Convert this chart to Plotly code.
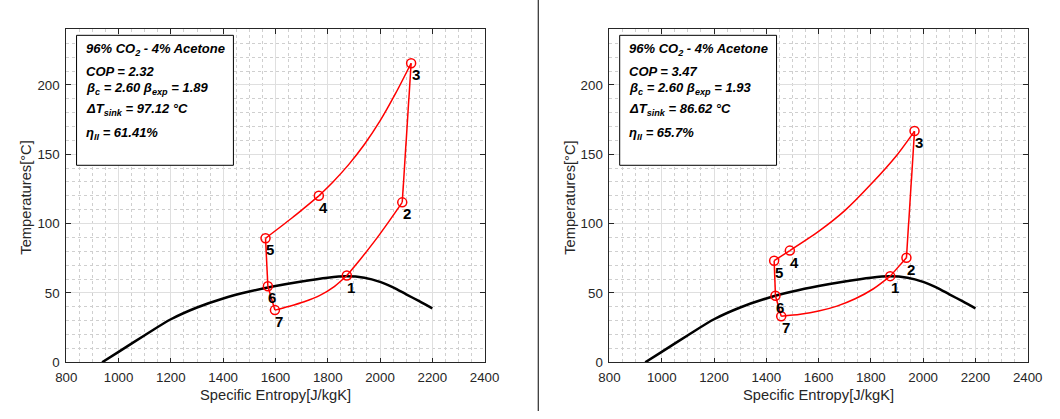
import plotly.graph_objects as go

W, H = 1060, 419
FONT = "Liberation Sans, Arial, Helvetica, sans-serif"
AX_COLOR = "#262626"

# Saturation dome of the 96% CO2 - 4% acetone mixture
dome_s = [937, 1000, 1100, 1200, 1300, 1400, 1500, 1600, 1700, 1800, 1870, 1940, 2000, 2050, 2100, 2150, 2200]
dome_T = [0, 7.5, 19.5, 31, 39.5, 46, 51, 55, 58.3, 61, 62, 61, 58, 54, 49, 44, 38.8]

state_labels = ["1", "2", "3", "4", "5", "6", "7"]

# Case A: state points and the cycle path through them
a_state_s = [1873, 2085, 2119, 1766, 1562, 1571, 1598]
a_state_T = [62.5, 115.3, 215.6, 120.0, 89.4, 54.8, 37.6]
a_path_s = [1873, 1925, 1980, 2035, 2085, 2119, 2060, 2000, 1940, 1880, 1820, 1766,
            1663, 1562, 1571, 1598, 1650, 1710, 1770, 1825, 1873]
a_path_T = [62.5, 74.3, 87.5, 101.8, 115.3, 215.6, 194, 174, 157, 142.5, 130, 120.0,
            104, 89.4, 54.8, 37.6, 40.2, 43.6, 48.2, 54.5, 62.5]
a_info = ["2.32", "2.60", "1.89", "97.12", "61.41"]

# Case B
b_state_s = [1874, 1936, 1967, 1490, 1430, 1435, 1457]
b_state_T = [62.1, 75.3, 166.7, 80.5, 73.2, 48.0, 33.2]
b_path_s = [1874, 1936, 1967, 1900, 1800, 1700, 1600, 1490, 1430, 1435, 1457,
            1530, 1600, 1670, 1740, 1810, 1874]
b_path_T = [62.1, 75.3, 166.7, 149.5, 128.3, 109.3, 94.3, 80.5, 73.2, 48.0, 33.2,
            34.6, 36.9, 40.5, 45.8, 53.0, 62.1]
b_info = ["3.47", "2.60", "1.93", "86.62", "65.7"]

x_ticks = [800, 1000, 1200, 1400, 1600, 1800, 2000, 2200, 2400]
y_ticks = [0, 50, 100, 150, 200]

# panel geometry in pixels
PLOT_TOP, PLOT_BOTTOM = 30.0, 369.3
PANELS = [
    dict(left=56.7, right=485.5, xa="x", ya="y"),
    dict(left=613.5, right=1042.3, xa="x2", ya="y2"),
]


def px(xp):
    return xp / W


def py(yp):
    return 1 - yp / H


fig = go.Figure()
annotations = []
shapes = []


def split_processes(path_s, path_T, st_s, st_T):
    """Cut the closed cycle path into one polyline per process (state to state)."""
    states = set(zip(st_s, st_T))
    segs = []
    cur_s, cur_T = [path_s[0]], [path_T[0]]
    for s, t in zip(path_s[1:], path_T[1:]):
        cur_s.append(s)
        cur_T.append(t)
        if (s, t) in states:
            segs.append((cur_s, cur_T))
            cur_s, cur_T = [s], [t]
    return segs


cases = [
    (a_state_s, a_state_T, a_path_s, a_path_T, a_info),
    (b_state_s, b_state_T, b_path_s, b_path_T, b_info),
]

for panel, (st_s, st_T, p_s, p_T, info) in zip(PANELS, cases):
    xa, ya = panel["xa"], panel["ya"]
    fig.add_trace(go.Scatter(
        x=dome_s, y=dome_T, mode="lines",
        line=dict(color="black", width=2.5, shape="spline", smoothing=0.8),
        xaxis=xa, yaxis=ya, showlegend=False, hoverinfo="skip"))
    for seg_s, seg_T in split_processes(p_s, p_T, st_s, st_T):
        fig.add_trace(go.Scatter(
            x=seg_s, y=seg_T, mode="lines",
            line=dict(color="#ff0000", width=1.5, shape="spline", smoothing=0.8),
            xaxis=xa, yaxis=ya, showlegend=False, hoverinfo="skip"))
    fig.add_trace(go.Scatter(
        x=st_s, y=st_T, mode="markers",
        marker=dict(symbol="circle-open", size=9, color="#ff0000", line=dict(width=1.5, color="#ff0000")),
        xaxis=xa, yaxis=ya, showlegend=False))
    for lab, s, t in zip(state_labels, st_s, st_T):
        annotations.append(dict(
            x=s, y=t, xref=xa, yref=ya, text="<b>%s</b>" % lab, showarrow=False,
            xanchor="center", yanchor="middle", xshift=4.5, yshift=-11.5,
            font=dict(family=FONT, size=15, color="black")))

    # info box
    bl = panel["left"] + 10.5
    shapes.append(dict(type="rect", xref="paper", yref="paper",
                       x0=px(bl), x1=px(bl + 160.8), y0=py(168.5), y1=py(36),
                       fillcolor="white", line=dict(color="black", width=1), layer="above"))
    cop, bc, bexp, dts, eta = info
    lines = [
        ("96% CO<sub>2</sub> - 4% Acetone", 50.5),
        ("COP = %s" % cop, 72.5),
        ("β<sub>c</sub> = %s β<sub>exp</sub> = %s" % (bc, bexp), 90.5),
        ("ΔT<sub>sink</sub> = %s °C" % dts, 112),
        ("η<sub>II</sub> = %s%%" % eta, 136),
    ]
    for txt, yc in lines:
        annotations.append(dict(
            x=px(bl + 8), y=py(yc), xref="paper", yref="paper", text="<b><i>%s</i></b>" % txt,
            showarrow=False, xanchor="left", yanchor="middle",
            font=dict(family=FONT, size=13, color="black")))

    # axis titles
    cx = (panel["left"] + panel["right"]) / 2
    annotations.append(dict(
        x=px(cx), y=py(402.7), xref="paper", yref="paper", text="Specific Entropy[J/kgK]",
        showarrow=False, xanchor="center", yanchor="middle",
        font=dict(family=FONT, size=14.7, color=AX_COLOR)))
    annotations.append(dict(
        x=px(panel["left"] - 40.8), y=py(202), xref="paper", yref="paper", text="Temperatures[°C]",
        showarrow=False, xanchor="center", yanchor="middle", textangle=-90,
        font=dict(family=FONT, size=14.7, color=AX_COLOR)))

# divider between the two panels
shapes.append(dict(type="line", xref="paper", yref="paper", x0=px(540.5), x1=px(540.5), y0=0, y1=1,
                   line=dict(color="black", width=1)))

axis_common = dict(
    ticks="inside", ticklen=4.5, tickwidth=1, tickcolor=AX_COLOR,
    showline=True, linecolor=AX_COLOR, linewidth=1, mirror="ticks",
    showgrid=True, gridcolor="#dfdfdf", gridwidth=1, zeroline=False,
    tickfont=dict(family=FONT, size=13.3, color=AX_COLOR),
)

layout_axes = {}
for i, panel in enumerate(PANELS):
    sfx = "" if i == 0 else str(i + 1)
    layout_axes["xaxis" + sfx] = dict(
        axis_common, domain=[px(panel["left"]), px(panel["right"])], range=[800, 2400],
        tickmode="array", tickvals=x_ticks, ticktext=[str(v) for v in x_ticks],
        anchor="y" + sfx, ticklabelstandoff=3,
        minor=dict(dtick=50, tick0=800, showgrid=True, gridcolor="#cfcfcf", griddash="dot", gridwidth=1, ticks=""))
    layout_axes["yaxis" + sfx] = dict(
        axis_common, domain=[py(PLOT_BOTTOM), py(PLOT_TOP)], range=[0, 240],
        tickmode="array", tickvals=y_ticks, ticktext=[str(v) for v in y_ticks],
        anchor="x" + sfx, ticklabelstandoff=3,
        minor=dict(dtick=10, tick0=0, showgrid=True, gridcolor="#cfcfcf", griddash="dot", gridwidth=1, ticks=""))

fig.update_layout(
    width=W, height=H, margin=dict(l=0, r=0, t=0, b=0),
    paper_bgcolor="white", plot_bgcolor="white",
    annotations=annotations, shapes=shapes, showlegend=False,
    **layout_axes,
)

fig.write_html("out.html")
